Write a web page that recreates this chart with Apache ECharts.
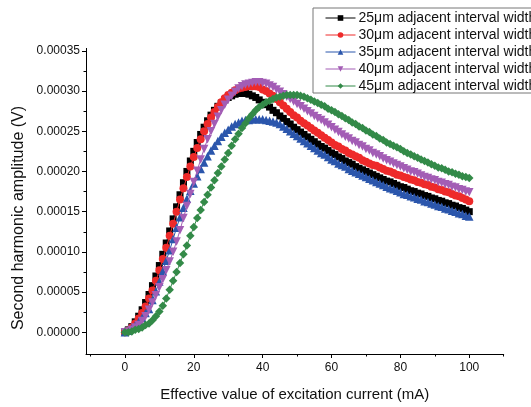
<!DOCTYPE html>
<html>
<head>
<meta charset="utf-8">
<script src="https://cdn.jsdelivr.net/npm/echarts@6/dist/echarts.min.js"></script>
<style>
html,body{margin:0;padding:0;background:#fff;}
#chart{width:531px;height:407px;}
</style>
</head>
<body>
<div id="chart"></div>
<script>
// excitation current (mA)
var currents = [0,1,2,3,4,5,6,7,8,9,10,11,12,13,14,15,16,17,18,19,20,21,22,23,24,25,26,27,28,29,30,
 31,32,33,34,35,36,37,38,39,40,41,42,43,44,45,46,47,48,49,50,51,52,53,54,55,56,57,58,59,60,
 61,62,63,64,65,66,67,68,69,70,71,72,73,74,75,76,77,78,79,80,81,82,83,84,85,86,87,88,89,90,
 91,92,93,94,95,96,97,98,99,100];

// second harmonic amplitude, in units of 1e-5 V
var w25 = [0.0,0.3,0.7,1.3,2.0,2.8,3.7,4.7,5.8,7.0,
 8.3,9.7,11.1,12.6,14.1,15.6,17.1,18.6,20.0,21.3,
 22.5,23.6,24.6,25.5,26.3,27.0,27.6,28.1,28.5,28.9,
 29.2,29.4,29.6,29.7,29.7,29.7,29.6,29.4,29.2,28.9,
 28.6,28.3,28.0,27.6,27.3,26.9,26.6,26.2,25.9,25.5,
 25.2,24.9,24.6,24.3,24.0,23.7,23.4,23.1,22.9,22.6,
 22.3,22.1,21.8,21.6,21.3,21.1,20.9,20.6,20.4,20.2,
 20.0,19.8,19.6,19.4,19.2,19.0,18.8,18.7,18.5,18.3,
 18.1,18.0,17.8,17.6,17.5,17.3,17.2,17.0,16.9,16.7,
 16.6,16.4,16.3,16.1,16.0,15.8,15.7,15.5,15.4,15.2,
 15.0];
var w30 = [0.0,0.2,0.6,1.1,1.7,2.4,3.2,4.2,5.2,6.4,
 7.7,9.1,10.5,12.0,13.5,15.0,16.5,17.9,19.3,20.6,
 21.8,22.9,24.0,25.0,25.9,26.7,27.4,28.0,28.6,29.1,
 29.5,29.8,30.1,30.3,30.4,30.5,30.6,30.6,30.6,30.5,
 30.2,30.0,29.7,29.4,29.0,28.6,28.2,27.8,27.4,27.0,
 26.7,26.3,26.0,25.7,25.4,25.1,24.8,24.5,24.2,23.9,
 23.6,23.3,23.1,22.8,22.6,22.3,22.1,21.9,21.7,21.4,
 21.2,21.0,20.8,20.7,20.5,20.3,20.1,20.0,19.8,19.6,
 19.5,19.3,19.2,19.0,18.9,18.7,18.6,18.4,18.3,18.1,
 18.0,17.8,17.7,17.5,17.4,17.2,17.0,16.9,16.7,16.5,
 16.3];
var w35 = [0.0,0.2,0.5,0.9,1.3,1.8,2.4,2.9,4.0,5.1,
 6.3,7.6,8.9,10.2,11.6,13.0,14.3,15.5,16.6,17.6,
 18.5,19.4,20.3,21.1,21.9,22.6,23.2,23.8,24.3,24.8,
 25.2,25.6,25.9,26.1,26.3,26.4,26.4,26.5,26.5,26.5,
 26.5,26.4,26.3,26.2,26.1,25.9,25.6,25.3,25.0,24.7,
 24.4,24.1,23.8,23.5,23.2,22.9,22.6,22.3,22.1,21.8,
 21.5,21.3,21.0,20.8,20.6,20.3,20.1,19.9,19.7,19.5,
 19.3,19.1,18.9,18.7,18.5,18.3,18.1,17.9,17.8,17.6,
 17.4,17.2,17.1,16.9,16.8,16.6,16.5,16.3,16.2,16.0,
 15.9,15.7,15.6,15.4,15.3,15.1,15.0,14.8,14.7,14.5,
 14.4];
var w40 = [0.0,0.1,0.3,0.6,0.9,1.4,2.0,2.8,3.7,4.6,
 5.6,6.6,7.7,8.8,10.0,11.3,12.7,14.2,15.7,17.2,
 18.7,20.1,21.5,22.8,24.0,25.0,25.9,26.8,27.6,28.3,
 28.9,29.4,29.9,30.3,30.6,30.8,30.9,31.0,31.1,31.1,
 31.0,30.9,30.7,30.5,30.2,29.9,29.6,29.3,29.0,28.7,
 28.4,28.1,27.8,27.5,27.2,26.9,26.6,26.4,26.1,25.8,
 25.5,25.2,24.9,24.6,24.3,24.1,23.8,23.6,23.3,23.1,
 22.8,22.6,22.3,22.1,21.9,21.6,21.4,21.2,21.0,20.8,
 20.6,20.4,20.2,20.0,19.9,19.7,19.5,19.3,19.2,19.0,
 18.9,18.7,18.6,18.4,18.3,18.1,18.0,17.8,17.7,17.5,
 17.4];
var w45 = [0.0,0.0,0.1,0.3,0.4,0.6,0.9,1.1,1.5,2.0,
 2.6,3.3,4.2,5.3,6.4,7.5,8.6,9.7,10.8,12.0,
 13.1,14.2,15.2,16.2,17.1,18.0,18.9,19.8,20.6,21.5,
 22.3,23.2,24.0,24.7,25.4,26.0,26.6,27.1,27.6,28.0,
 28.3,28.6,28.8,29.0,29.2,29.3,29.4,29.5,29.5,29.5,
 29.5,29.4,29.3,29.1,28.9,28.7,28.5,28.3,28.1,27.8,
 27.6,27.4,27.1,26.9,26.6,26.4,26.1,25.9,25.6,25.4,
 25.1,24.9,24.6,24.4,24.1,23.9,23.6,23.4,23.2,23.0,
 22.8,22.5,22.3,22.1,21.9,21.7,21.5,21.3,21.1,20.9,
 20.7,20.5,20.4,20.2,20.0,19.9,19.7,19.6,19.4,19.3,
 19.2];

var names = ['25\u03bcm adjacent interval width','30\u03bcm adjacent interval width',
 '35\u03bcm adjacent interval width','40\u03bcm adjacent interval width','45\u03bcm adjacent interval width'];
var colors = ['#000000','#ee2a2a','#2b56ac','#a35db5','#338a48'];
var yMajor = [0,0.00005,0.0001,0.00015,0.0002,0.00025,0.0003,0.00035];
var yMinor = [0.000025,0.000075,0.000125,0.000175,0.000225,0.000275,0.000325];
var xMajor = [0,20,40,60,80,100];
var xMinor = [-10,10,30,50,70,90,110];

var font = "'Liberation Sans', Arial, sans-serif";

function pairs(vals) {
    var out = [];
    for (var i = 0; i < currents.length; i++) out.push([currents[i], vals[i] * 1e-5]);
    return out;
}

var allVals = [w25, w30, w35, w40, w45];
var symbols = ['rect', 'circle', 'triangle', 'triangle', 'diamond'];
var sizes = [7, 8, 8.5, 8.5, 8.5];
var rotates = [0, 0, 0, 180, 0];
var series = [];
for (var s = 0; s < 5; s++) {
    series.push({
        name: names[s],
        type: 'line',
        data: pairs(allVals[s]),
        symbol: symbols[s],
        symbolSize: sizes[s],
        symbolRotate: rotates[s],
        showAllSymbol: true,
        color: colors[s],
        lineStyle: {width: 1, color: colors[s]},
        itemStyle: {color: colors[s]},
        xAxisIndex: 0,
        yAxisIndex: 0,
        z: 2 + s
    });
}

var xBase = {type: 'value', min: -11.3, max: 110, splitLine: {show: false}};
var yBase = {type: 'value', min: -0.000027, max: 0.000353, splitLine: {show: false}};

var option = {
    animation: false,
    backgroundColor: '#fff',
    grid: {left: 86, top: 48.4, right: 27.3, bottom: 50.3},
    legend: {
        orient: 'vertical',
        left: 313,
        top: 8,
        padding: [3, 10, 0, 12],
        itemWidth: 30,
        itemHeight: 7,
        itemGap: 3,
        borderColor: '#777',
        borderWidth: 1,
        backgroundColor: '#fff',
        selectedMode: false,
        lineStyle: {width: 1},
        textStyle: {fontFamily: font, fontSize: 14, color: '#111', padding: [0, 0, 0, -2]},
        data: names
    },
    xAxis: [
        Object.assign({}, xBase, {
            position: 'bottom',
            name: 'Effective value of excitation current (mA)',
            nameLocation: 'middle',
            nameGap: 33,
            nameTextStyle: {fontFamily: font, fontSize: 15, color: '#111'},
            axisLine: {onZero: false, lineStyle: {color: '#000', width: 1}},
            axisTick: {inside: false, length: 4, customValues: xMajor, lineStyle: {color: '#000'}},
            axisLabel: {customValues: xMajor, margin: 8, fontFamily: font, fontSize: 12, color: '#111'}
        }),
        Object.assign({}, xBase, {
            position: 'bottom',
            axisLine: {show: false, onZero: false},
            axisTick: {inside: false, length: 2.5, customValues: xMinor, lineStyle: {color: '#000'}},
            axisLabel: {show: false}
        })
    ],
    yAxis: [
        Object.assign({}, yBase, {
            position: 'left',
            axisLine: {show: true, onZero: false, lineStyle: {color: '#000', width: 1}},
            axisTick: {show: true, inside: false, length: 4, customValues: yMajor, lineStyle: {color: '#000'}},
            axisLabel: {
                customValues: yMajor, margin: 6, fontFamily: font, fontSize: 12, color: '#111',
                formatter: function (v) { return v.toFixed(5); }
            }
        }),
        Object.assign({}, yBase, {
            position: 'left',
            axisLine: {show: false, onZero: false},
            axisTick: {show: true, inside: false, length: 2.5, customValues: yMinor, lineStyle: {color: '#000'}},
            axisLabel: {show: false}
        })
    ],
    graphic: [{
        type: 'text',
        x: 19,
        y: 218,
        rotation: Math.PI / 2,
        style: {
            text: 'Second harmonic amplitude (V)',
            fontFamily: font,
            fontSize: 16,
            fill: '#111',
            align: 'center',
            verticalAlign: 'middle'
        }
    }],
    series: series
};

var chart = echarts.init(document.getElementById('chart'), null, {renderer: 'canvas'});
chart.setOption(option);
</script>
</body>
</html>
